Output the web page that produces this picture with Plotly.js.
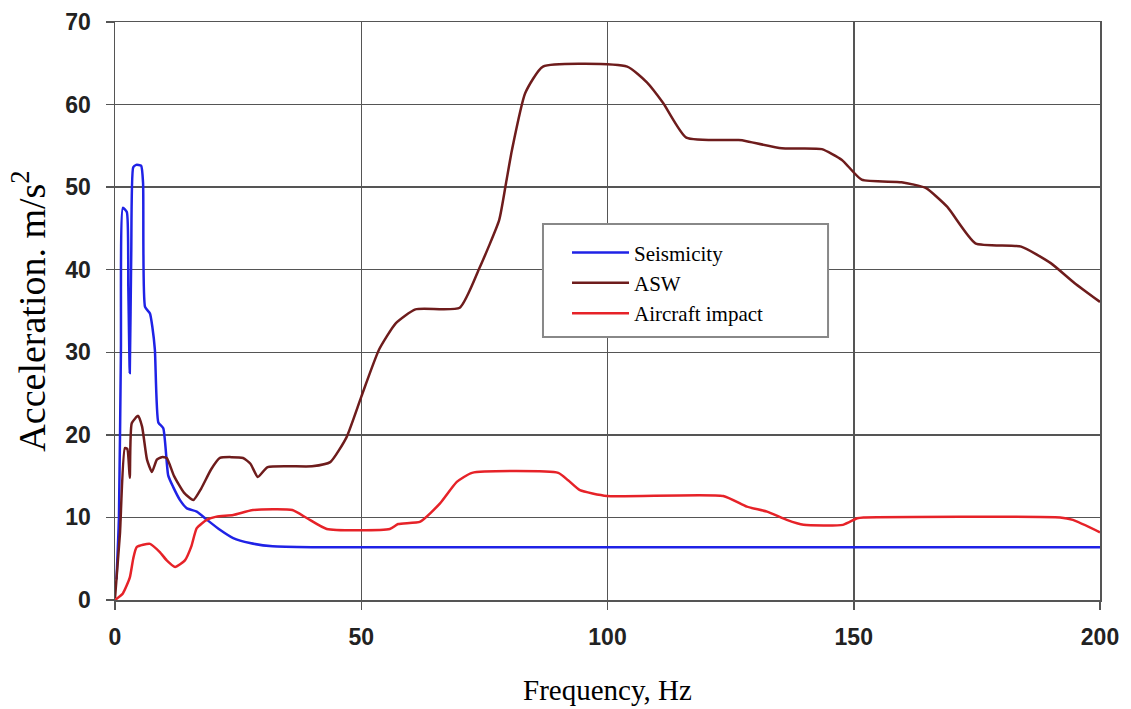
<!DOCTYPE html>
<html>
<head>
<meta charset="utf-8">
<script src="https://cdn.plot.ly/plotly-3.0.1.min.js"></script>
<style>html,body{margin:0;padding:0;background:#fff;}#chart{width:1131px;height:709px;}</style>
</head>
<body>
<div id="chart"></div>
<script>
// Seismicity
const seisX = [0.3, 0.8, 1.2, 1.6, 2.4, 2.7, 3.0, 3.3, 3.7, 4.3, 5.3, 5.7, 6.1, 7.1, 7.6, 8.1, 8.8, 9.8, 10.8, 11.8, 13.2, 14.6, 16.6, 18.7, 21.3, 24.0, 27.4, 32, 40, 60, 100, 150, 200];
const seisY = [2.5, 10, 30, 47.5, 47.0, 38, 27.5, 42, 52.4, 52.7, 52.6, 50.5, 35.5, 34.7, 33, 30.3, 21.5, 20.8, 15.1, 13.7, 12.1, 11.1, 10.7, 9.7, 8.5, 7.5, 6.9, 6.5, 6.4, 6.4, 6.4, 6.4, 6.4];

// ASW
const aswX = [0, 1.0, 2.0, 2.5, 3.0, 3.4, 4.7, 5.5, 6.5, 7.5, 8.5, 9.5, 10.5, 12, 14, 15.9, 17.5, 19.5, 21.3, 26, 27.5, 29, 31, 40, 43.7, 47, 50, 53.6, 57, 61, 70, 74, 78, 79.4, 80.6, 83.3, 86.9, 104, 108, 111.3, 116, 126.6, 128, 135.4, 143.5, 147.6, 151.6, 159.7, 164.6, 169, 174.7, 184, 190, 194.8, 200];
const aswY = [0.2, 8, 18.4, 18.3, 14.8, 21.4, 22.3, 21, 17, 15.5, 17, 17.3, 17.2, 15, 13, 12.1, 13.5, 15.8, 17.2, 17.2, 16.5, 14.9, 16.1, 16.2, 16.7, 19.7, 24.6, 30.3, 33.5, 35.2, 35.4, 40.2, 46, 50.5, 54.5, 61.4, 64.6, 64.6, 62.7, 60.2, 56, 55.7, 55.6, 54.7, 54.6, 53.3, 50.9, 50.6, 49.9, 47.6, 43.2, 42.8, 40.8, 38.4, 36.1];

// Aircraft impact
const airX = [0, 1.6, 3.0, 3.7, 4.4, 7.1, 9.1, 10.5, 12.2, 14.2, 15.5, 16.6, 18.6, 20.6, 24, 28, 36, 39, 43, 55.8, 57.5, 62, 66, 69.4, 72.5, 90, 92, 94.4, 99.9, 123.5, 128.3, 132.4, 136.4, 139.8, 147.8, 150.7, 152, 191.9, 194.5, 200];
const airY = [0, 0.8, 2.7, 5, 6.4, 6.8, 5.8, 4.8, 4.0, 4.8, 6.5, 8.7, 9.7, 10.1, 10.3, 10.9, 10.9, 9.9, 8.6, 8.6, 9.2, 9.5, 11.7, 14.3, 15.4, 15.4, 14.5, 13.3, 12.6, 12.6, 11.3, 10.7, 9.7, 9.1, 9.1, 9.9, 10.0, 10.0, 9.7, 8.2];

const seriesNames = ['Seismicity', 'ASW', 'Aircraft impact'];
const xTicks = [0, 50, 100, 150, 200];
const yTicks = [0, 10, 20, 30, 40, 50, 60, 70];

const traces = [
  {x: seisX, y: seisY, name: seriesNames[0], mode: 'lines', line: {color: '#1f22e6', width: 2.5, shape: 'spline', smoothing: 0.5}},
  {x: aswX, y: aswY, name: seriesNames[1], mode: 'lines', line: {color: '#6e1c1c', width: 2.5, shape: 'spline', smoothing: 0.5}},
  {x: airX, y: airY, name: seriesNames[2], mode: 'lines', line: {color: '#e62228', width: 2.5, shape: 'spline', smoothing: 0.5}}
];

const gridColor = '#555';
const serif = '"Liberation Serif", "Times New Roman", serif';
const sans = '"Liberation Sans", Arial, sans-serif';
const layout = {
  width: 1131, height: 709,
  margin: {l: 115, r: 31, t: 22, b: 109},
  paper_bgcolor: '#fff', plot_bgcolor: '#fff',
  showlegend: true,
  legend: {
    x: 0.4589, y: 0.636, xanchor: 'left', yanchor: 'top',
    bgcolor: 'rgba(0,0,0,0)', borderwidth: 0,
    font: {family: serif, size: 21, color: '#000'},
    tracegroupgap: 0, itemwidth: 57
  },
  shapes: [{
    type: 'rect', xref: 'paper', yref: 'paper',
    x0: 0.4345, x1: 0.7239, y0: 0.455, y1: 0.6505,
    fillcolor: '#fff', line: {color: '#888', width: 2}, layer: 'above'
  }],
  xaxis: {
    range: [0, 200], tickvals: xTicks, ticktext: xTicks.map(String),
    showgrid: true, gridcolor: gridColor, gridwidth: 1.5,
    showline: true, linecolor: gridColor, linewidth: 1.5, mirror: true,
    ticks: 'outside', ticklen: 8, tickcolor: gridColor, tickwidth: 1.5,
    zeroline: false,
    tickfont: {family: sans, size: 23, color: '#222', weight: 'bold'},
    ticklabelstandoff: 8,
    title: {text: 'Frequency, Hz', font: {family: serif, size: 29, color: '#000'}, standoff: 30}
  },
  yaxis: {
    range: [0, 70], tickvals: yTicks, ticktext: yTicks.map(String),
    showgrid: true, gridcolor: gridColor, gridwidth: 1.5,
    showline: true, linecolor: gridColor, linewidth: 1.5, mirror: true,
    ticks: 'outside', ticklen: 8, tickcolor: gridColor, tickwidth: 1.5,
    zeroline: false,
    tickfont: {family: sans, size: 23, color: '#222', weight: 'bold'},
    ticklabelstandoff: 10,
    title: {text: 'Acceleration. m/s<sup>2</sup>', font: {family: serif, size: 38, color: '#000'}, standoff: 8}
  }
};

Plotly.newPlot('chart', traces, layout, {displayModeBar: false, staticPlot: true});
</script>
</body>
</html>
